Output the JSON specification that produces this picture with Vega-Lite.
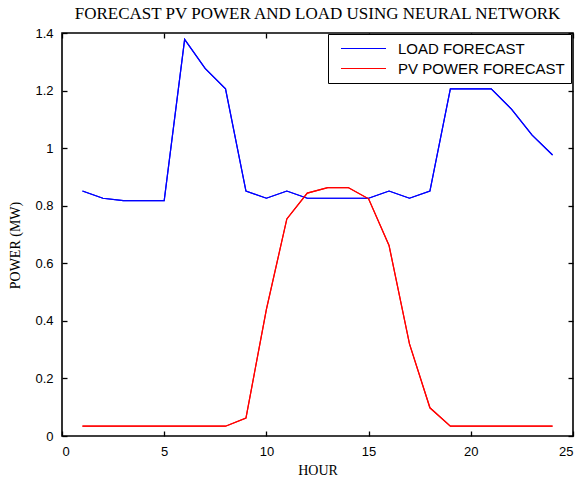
{
  "$schema": "https://vega.github.io/schema/vega-lite/v6.json",
  "width": 511,
  "height": 403,
  "autosize": {"type": "none"},
  "padding": {"left": 62, "top": 33, "right": 9, "bottom": 44},
  "background": "white",
  "title": {"text": "FORECAST PV POWER AND LOAD USING NEURAL NETWORK", "font": "Liberation Serif", "fontSize": 17, "fontWeight": "normal", "color": "black", "anchor": "middle", "offset": 4},
  "data": {"values": [
    {"hour": 1, "power": 0.851, "series": "LOAD FORECAST"},
    {"hour": 2, "power": 0.826, "series": "LOAD FORECAST"},
    {"hour": 3, "power": 0.818, "series": "LOAD FORECAST"},
    {"hour": 4, "power": 0.818, "series": "LOAD FORECAST"},
    {"hour": 5, "power": 0.818, "series": "LOAD FORECAST"},
    {"hour": 6, "power": 1.378, "series": "LOAD FORECAST"},
    {"hour": 7, "power": 1.277, "series": "LOAD FORECAST"},
    {"hour": 8, "power": 1.206, "series": "LOAD FORECAST"},
    {"hour": 9, "power": 0.851, "series": "LOAD FORECAST"},
    {"hour": 10, "power": 0.826, "series": "LOAD FORECAST"},
    {"hour": 11, "power": 0.851, "series": "LOAD FORECAST"},
    {"hour": 12, "power": 0.826, "series": "LOAD FORECAST"},
    {"hour": 13, "power": 0.826, "series": "LOAD FORECAST"},
    {"hour": 14, "power": 0.826, "series": "LOAD FORECAST"},
    {"hour": 15, "power": 0.826, "series": "LOAD FORECAST"},
    {"hour": 16, "power": 0.851, "series": "LOAD FORECAST"},
    {"hour": 17, "power": 0.826, "series": "LOAD FORECAST"},
    {"hour": 18, "power": 0.851, "series": "LOAD FORECAST"},
    {"hour": 19, "power": 1.206, "series": "LOAD FORECAST"},
    {"hour": 20, "power": 1.206, "series": "LOAD FORECAST"},
    {"hour": 21, "power": 1.206, "series": "LOAD FORECAST"},
    {"hour": 22, "power": 1.135, "series": "LOAD FORECAST"},
    {"hour": 23, "power": 1.045, "series": "LOAD FORECAST"},
    {"hour": 24, "power": 0.976, "series": "LOAD FORECAST"},
    {"hour": 1, "power": 0.034, "series": "PV POWER FORECAST"},
    {"hour": 2, "power": 0.034, "series": "PV POWER FORECAST"},
    {"hour": 3, "power": 0.034, "series": "PV POWER FORECAST"},
    {"hour": 4, "power": 0.034, "series": "PV POWER FORECAST"},
    {"hour": 5, "power": 0.034, "series": "PV POWER FORECAST"},
    {"hour": 6, "power": 0.034, "series": "PV POWER FORECAST"},
    {"hour": 7, "power": 0.034, "series": "PV POWER FORECAST"},
    {"hour": 8, "power": 0.034, "series": "PV POWER FORECAST"},
    {"hour": 9, "power": 0.062, "series": "PV POWER FORECAST"},
    {"hour": 10, "power": 0.44, "series": "PV POWER FORECAST"},
    {"hour": 11, "power": 0.754, "series": "PV POWER FORECAST"},
    {"hour": 12, "power": 0.844, "series": "PV POWER FORECAST"},
    {"hour": 13, "power": 0.863, "series": "PV POWER FORECAST"},
    {"hour": 14, "power": 0.863, "series": "PV POWER FORECAST"},
    {"hour": 15, "power": 0.824, "series": "PV POWER FORECAST"},
    {"hour": 16, "power": 0.662, "series": "PV POWER FORECAST"},
    {"hour": 17, "power": 0.32, "series": "PV POWER FORECAST"},
    {"hour": 18, "power": 0.098, "series": "PV POWER FORECAST"},
    {"hour": 19, "power": 0.034, "series": "PV POWER FORECAST"},
    {"hour": 20, "power": 0.034, "series": "PV POWER FORECAST"},
    {"hour": 21, "power": 0.034, "series": "PV POWER FORECAST"},
    {"hour": 22, "power": 0.034, "series": "PV POWER FORECAST"},
    {"hour": 23, "power": 0.034, "series": "PV POWER FORECAST"},
    {"hour": 24, "power": 0.034, "series": "PV POWER FORECAST"}
  ]},
  "layer": [
    {
      "mark": {"type": "line", "strokeWidth": 1.2, "interpolate": "linear"},
      "encoding": {
        "x": {"field": "hour", "type": "quantitative", "scale": {"domain": [0, 25], "nice": false},
          "axis": {"orient": "bottom", "title": "HOUR", "values": [0, 5, 10, 15, 20, 25], "grid": false}},
        "y": {"field": "power", "type": "quantitative", "scale": {"domain": [0, 1.4], "nice": false},
          "axis": {"orient": "left", "title": "POWER  (MW)", "titleY": 212, "values": [0, 0.2, 0.4, 0.6, 0.8, 1, 1.2, 1.4], "format": "~g", "grid": false}},
        "color": {"field": "series", "type": "nominal",
          "scale": {"domain": ["LOAD FORECAST", "PV POWER FORECAST"], "range": ["#0000ff", "#ff0000"]},
          "legend": {"title": null, "orient": "none", "legendX": 266, "legendY": 1, "symbolType": "M-3,0H3", "symbolSize": 225, "symbolStrokeWidth": 1.2, "symbolOffset": 21, "labelFont": "Liberation Sans", "labelFontSize": 15, "labelLimit": 400, "labelColor": "black", "strokeColor": "black", "fillColor": "white", "padding": 6, "rowPadding": 3, "labelOffset": 26}}
      }
    },
    {
      "mark": {"type": "line", "strokeWidth": 1.2},
      "encoding": {
        "x": {"field": "hour", "type": "quantitative", "scale": {"domain": [0, 25], "nice": false},
          "axis": {"orient": "top", "title": null, "labels": false, "values": [0, 5, 10, 15, 20, 25], "grid": false}},
        "y": {"field": "power", "type": "quantitative", "scale": {"domain": [0, 1.4], "nice": false},
          "axis": {"orient": "right", "title": null, "labels": false, "values": [0, 0.2, 0.4, 0.6, 0.8, 1, 1.2, 1.4], "grid": false}},
        "color": {"field": "series", "type": "nominal"}
      }
    }
  ],
  "resolve": {"axis": {"x": "independent", "y": "independent"}},
  "config": {
    "view": {"stroke": "black", "strokeWidth": 1.6},
    "axis": {"domain": false, "offset": -5, "tickColor": "black", "tickSize": 5, "tickWidth": 1.3, "labelFont": "Liberation Sans", "labelFontSize": 13, "labelColor": "black", "labelPadding": 9, "titleFont": "Liberation Serif", "titleFontSize": 14, "titleFontWeight": "normal", "titleColor": "black"},
    "axisBottom": {"titlePadding": 5},
    "axisLeft": {"titlePadding": 12}
  }
}
